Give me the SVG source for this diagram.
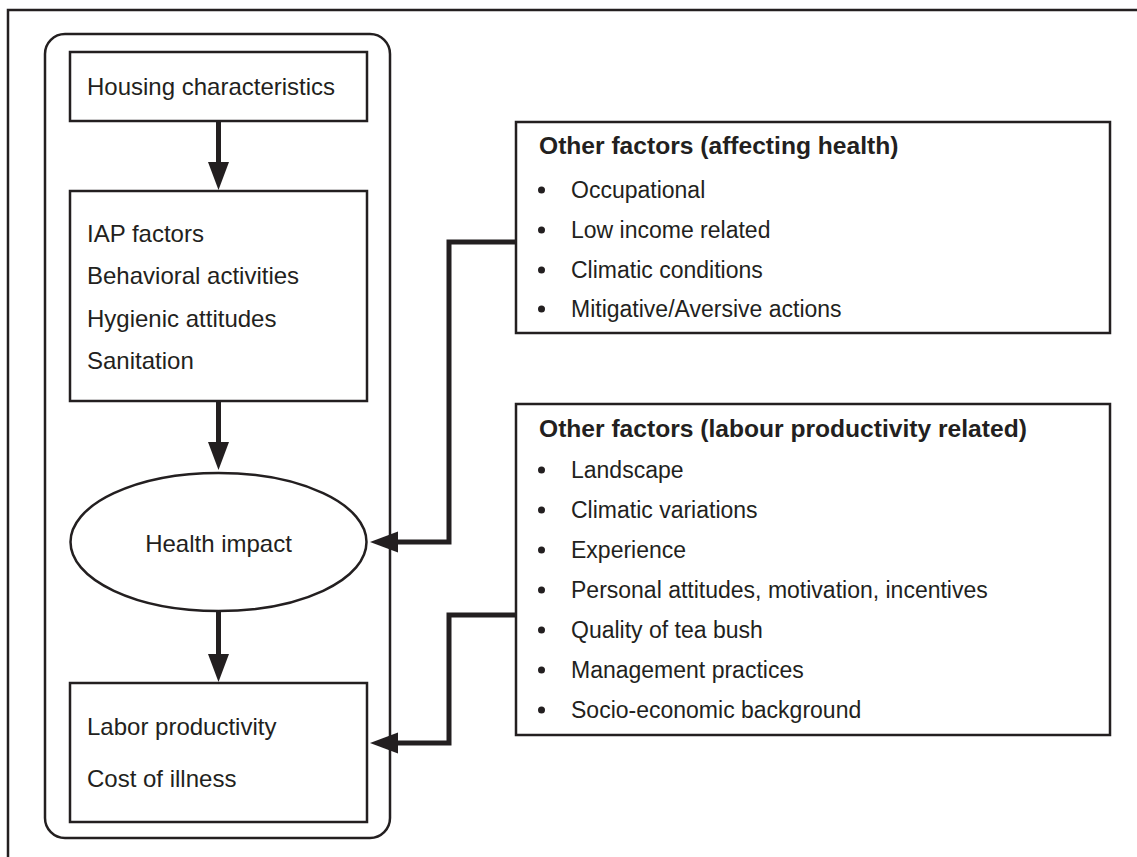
<svg xmlns="http://www.w3.org/2000/svg" width="1137" height="857" viewBox="0 0 1137 857">
<style>
.box{fill:#fff;stroke:#231f20;stroke-width:2.5}
.frame{fill:none;stroke:#231f20;stroke-width:2.5}
.t{font-family:"Liberation Sans",Arial,sans-serif;font-size:24px;fill:#231f20}
.r{font-family:"Liberation Sans",Arial,sans-serif;font-size:23px;fill:#231f20}
.b{font-family:"Liberation Sans",Arial,sans-serif;font-size:24.6px;font-weight:bold;fill:#231f20}
.conn{fill:none;stroke:#231f20;stroke-width:5}
.dot{fill:#231f20}
</style>
<defs>
<marker id="ah" markerUnits="userSpaceOnUse" markerWidth="28" markerHeight="22" refX="1" refY="10.5" orient="auto" viewBox="0 0 28 21">
<path d="M0,0 L28,10.5 L0,21 Z" fill="#231f20"/>
</marker>
</defs>
<path class="frame" d="M8,857 V10 H1137"/>
<g id="container"><rect class="frame" x="45" y="34" width="345" height="804" rx="20"/></g>
<g id="housing">
<rect class="box" x="70" y="52" width="297" height="69"/>
<text class="t" x="87" y="95">Housing characteristics</text>
</g>
<g id="iap">
<rect class="box" x="70" y="191" width="297" height="210"/>
<text class="t" x="87" y="242">IAP factors</text>
<text class="t" x="87" y="284">Behavioral activities</text>
<text class="t" x="87" y="327">Hygienic attitudes</text>
<text class="t" x="87" y="369">Sanitation</text>
</g>
<g id="health">
<ellipse class="box" cx="218.5" cy="542" rx="148" ry="69"/>
<text class="t" x="218.5" y="552" text-anchor="middle">Health impact</text>
</g>
<g id="labor">
<rect class="box" x="70" y="683" width="297" height="139"/>
<text class="t" x="87" y="735">Labor productivity</text>
<text class="t" x="87" y="787">Cost of illness</text>
</g>
<g id="other-health">
<rect class="box" x="516" y="122" width="594" height="211"/>
<text class="b" x="539" y="154">Other factors (affecting health)</text>
<circle class="dot" cx="541.5" cy="190" r="3.5"/><text class="r" x="571" y="198">Occupational</text>
<circle class="dot" cx="541.5" cy="230" r="3.5"/><text class="r" x="571" y="238">Low income related</text>
<circle class="dot" cx="541.5" cy="270" r="3.5"/><text class="r" x="571" y="278">Climatic conditions</text>
<circle class="dot" cx="541.5" cy="309" r="3.5"/><text class="r" x="571" y="317">Mitigative/Aversive actions</text>
</g>
<g id="other-labour">
<rect class="box" x="516" y="404" width="594" height="331"/>
<text class="b" x="539" y="437">Other factors (labour productivity related)</text>
<circle class="dot" cx="541.5" cy="470" r="3.5"/><text class="r" x="571" y="478">Landscape</text>
<circle class="dot" cx="541.5" cy="510" r="3.5"/><text class="r" x="571" y="518">Climatic variations</text>
<circle class="dot" cx="541.5" cy="550" r="3.5"/><text class="r" x="571" y="558">Experience</text>
<circle class="dot" cx="541.5" cy="590" r="3.5"/><text class="r" x="571" y="598">Personal attitudes, motivation, incentives</text>
<circle class="dot" cx="541.5" cy="630" r="3.5"/><text class="r" x="571" y="638">Quality of tea bush</text>
<circle class="dot" cx="541.5" cy="670" r="3.5"/><text class="r" x="571" y="678">Management practices</text>
<circle class="dot" cx="541.5" cy="710" r="3.5"/><text class="r" x="571" y="718">Socio-economic background</text>
</g>
<g id="connectors">
<path class="conn" d="M218.5,121 V163" marker-end="url(#ah)"/>
<path class="conn" d="M218.5,401 V443" marker-end="url(#ah)"/>
<path class="conn" d="M218.5,611 V655" marker-end="url(#ah)"/>
<path class="conn" d="M516,242 H449 V542 H397" marker-end="url(#ah)"/>
<path class="conn" d="M516,615 H449 V743 H397" marker-end="url(#ah)"/>
</g>
</svg>
